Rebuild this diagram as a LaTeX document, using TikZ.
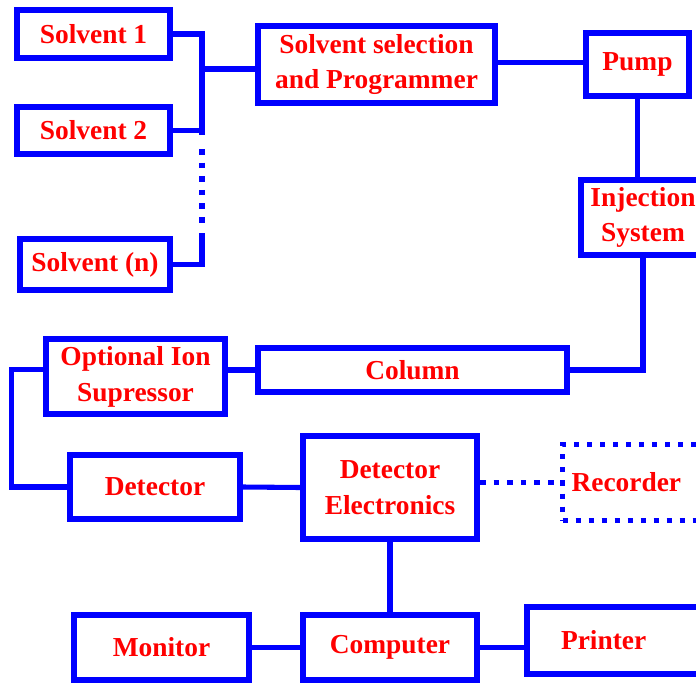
\documentclass[tikz,border=0pt]{standalone}
\usepackage{fontspec}
\setmainfont{Liberation Serif}
\tikzset{bx/.style={draw=blue, line width=4.3pt, rectangle, text=red, align=center, inner sep=0pt},
  dbx/.style={bx, line width=3.6pt, dash pattern=on 0.125cm off 0.2cm},
  wire/.style={draw=blue, line width=3.6pt},
  dwire/.style={wire, dash pattern=on 0.14cm off 0.2cm}}

\begin{document}
\begin{tikzpicture}[x=0.025cm, y=-0.025cm, font=\bfseries\fontsize{19.5}{25.5}\selectfont]
  \useasboundingbox (0,0) rectangle (696,683);
  % solvents and programmer
  \node[bx, minimum width=3.825cm, minimum height=1.2cm]   (s1)  at (93.5,34)    {Solvent 1};
  \node[bx, minimum width=3.825cm, minimum height=1.175cm] (s2)  at (93.5,130.5) {Solvent 2};
  \node[bx, minimum width=3.75cm,  minimum height=1.275cm] (sn)  at (95,264.5)   {Solvent (n)};
  \node[bx, minimum width=5.925cm, minimum height=1.925cm] (sel) at (376.5,64.5) {Solvent selection\\and Programmer};
  \node[bx, minimum width=2.575cm, minimum height=1.575cm] (pump) at (637.5,64.5) {Pump};
  \node[bx, minimum width=3.1cm,   minimum height=1.875cm] (inj) at (643,217.5)  {Injection\\System};
  % separation
  \node[bx, minimum width=7.725cm, minimum height=1.1cm]   (col) at (412.5,370)  {Column};
  \node[bx, minimum width=4.475cm, minimum height=1.875cm] (ois) at (135.5,376.5) {Optional Ion\\Supressor};
  \node[bx, minimum width=4.25cm,  minimum height=1.6cm]   (det) at (155,487)    {Detector};
  \node[bx, minimum width=4.35cm,  minimum height=2.575cm] (elec) at (390,487.5) {Detector\\Electronics};
  \node[dbx, anchor=west, minimum height=1.9cm, text width=4cm, align=left, inner xsep=0.225cm] (rec) at (560,482.5) {Recorder};
  % data handling
  \node[bx, minimum width=4.375cm, minimum height=1.625cm] (mon) at (161.5,647.5) {Monitor};
  \node[bx, minimum width=4.35cm,  minimum height=1.625cm] (comp) at (390,647.5) {Computer};
  \node[bx, anchor=west, minimum height=1.675cm, text width=4.15cm, align=left, inner xsep=0.85cm] (prn) at (524,640.5) {Printer};
  % solvent manifold
  \coordinate (bus) at (202,69);
  \coordinate (b2) at (202,135);
  \coordinate (d1) at (202,149);
  \coordinate (d2) at (202,229);
  \coordinate (b3) at (202,233);
  \draw[wire] (s1.east) -| (b2);
  \draw[wire] (s2.east) -- (s2.east -| bus);
  \draw[dwire] (d1) -- (d2);
  \draw[wire] (sn.east) -| (b3);
  \draw[wire] (bus) -- (bus -| sel.west);
  \draw[wire] ([yshift=0.06cm]sel.east) -- ([yshift=0.06cm]sel.east -| pump.west);
  \draw[wire] (pump.south) -- (pump.south |- inj.north);
  \draw[wire] (inj.south) |- (col.east);
  \draw[wire] (col.west) -- (col.west -| ois.east);
  \draw[wire] ([yshift=0.18cm]ois.west) -- ++(-31,0) |- (det.west);
  \draw[wire] (det.east) -- (elec.west);
  \draw[dwire] (elec.east |- rec.west) -- (rec.west);
  \draw[wire] (elec.south) -- (comp.north);
  \draw[wire] (mon.east) -- (comp.west);
  \draw[wire] (comp.east) -- (comp.east -| prn.west);
\end{tikzpicture}
\end{document}
